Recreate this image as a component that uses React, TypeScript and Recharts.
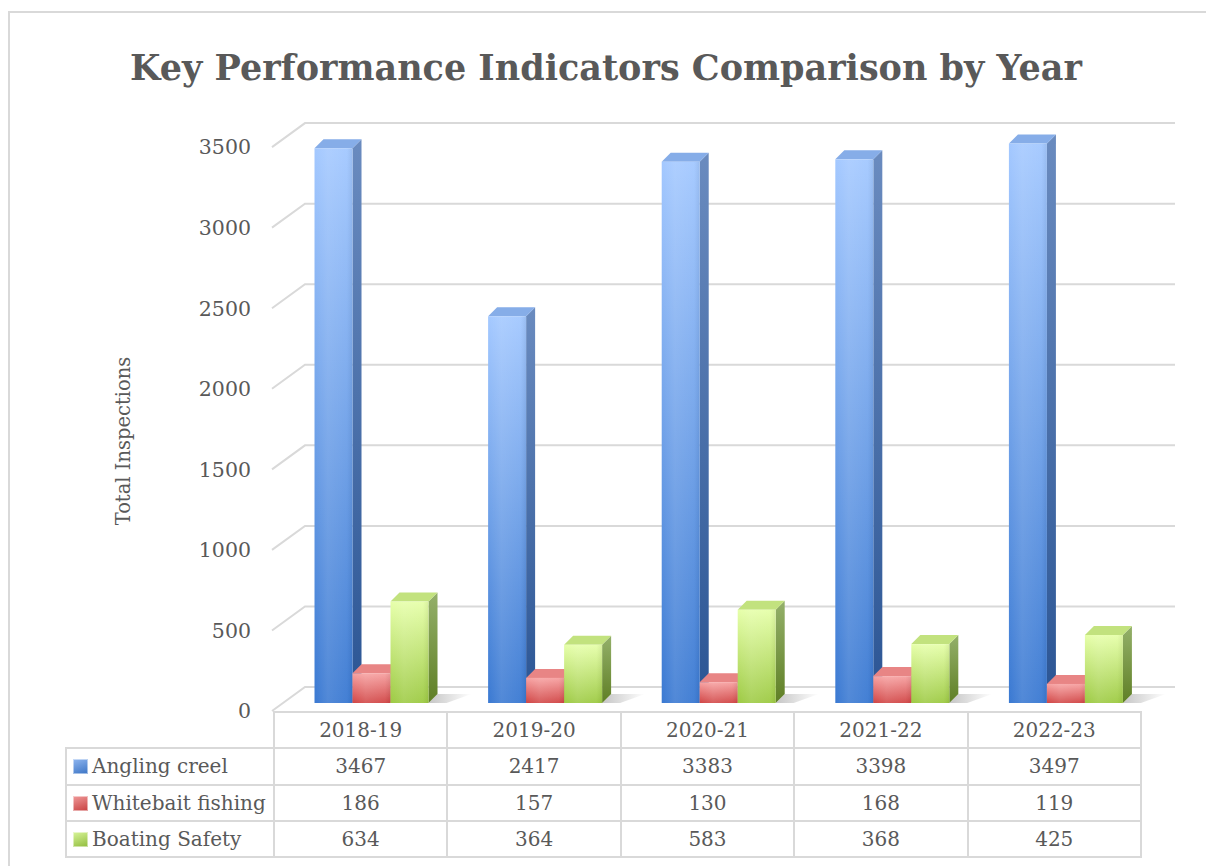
import React from "react";
import { BarChart, Bar, XAxis, YAxis, CartesianGrid } from "recharts";

const years = ["2018-19", "2019-20", "2020-21", "2021-22", "2022-23"];
const anglingCreel = [3467, 2417, 3383, 3398, 3497];
const whitebaitFishing = [186, 157, 130, 168, 119];
const boatingSafety = [634, 364, 583, 368, 425];
const seriesNames = ["Angling creel", "Whitebait fishing", "Boating Safety"];
const yTicks = [0, 500, 1000, 1500, 2000, 2500, 3000, 3500];

const seriesValues = [anglingCreel, whitebaitFishing, boatingSafety];
const seriesKeys = ["angling", "whitebait", "boating"];

const data = years.map((year, i) => ({
  year,
  angling: anglingCreel[i],
  whitebait: whitebaitFishing[i],
  boating: boatingSafety[i],
}));

// layout (window px)
const W = 1206;
const H = 866;
const PLOT_LEFT = 285;
const PLOT_RIGHT = 1153;
const PLOT_TOP = 143;
const PLOT_BOTTOM = 703;
const DX = 9; // bar depth
const DY = 9;
const TEXT = "#595959";
const GRID = "#d9d9d9";
const FONT = "'DejaVu Serif', serif";

const palette = [
  { front: ["#a3c8ff", "#3a79d2"], side: ["#6a8bbf", "#2b5594"], top: "#86ade8", key: ["#8fb6f0", "#3b74c4"] },
  { front: ["#f7a2a2", "#d14545"], side: ["#b35a5a", "#943232"], top: "#e88585", key: ["#f09a9a", "#c74040"] },
  { front: ["#e6ffaa", "#9dca43"], side: ["#94b06a", "#5f7f25"], top: "#c2e27e", key: ["#d8f59a", "#90bb3c"] },
];

const make3DBar = (idx: number) => (props: any) => {
  const { x, y, width, height } = props;
  if (width == null || height == null) return null;
  const c = palette[idx];
  const r = x + width;
  const b = y + height;
  return (
    <g>
      {idx === 2 && (
        <polygon
          points={`${r},${b} ${r + DX},${b - DY} ${r + DX + 34},${b - DY} ${r + 18},${b}`}
          fill="url(#shadowGrad)"
        />
      )}
      <polygon
        points={`${r},${y} ${r + DX},${y - DY} ${r + DX},${b - DY} ${r},${b}`}
        fill={`url(#side${idx})`}
      />
      <polygon
        points={`${x},${y} ${x + DX},${y - DY} ${r + DX},${y - DY} ${r},${y}`}
        fill={c.top}
      />
      <rect x={x} y={y} width={width} height={height} fill={`url(#front${idx})`} />
      <rect x={x} y={y} width={width} height={height} fill="url(#frontShine)" />
    </g>
  );
};

const gridLine = (props: any) => {
  const { y1, key } = props;
  const backY = 687 - (PLOT_BOTTOM - y1) * 1.007;
  const frontY = backY + 24;
  return (
    <path
      key={key}
      d={`M272,${frontY}L305,${backY}L1175,${backY}`}
      stroke={GRID}
      strokeWidth={2}
      fill="none"
    />
  );
};

const YTick = (props: any) => {
  const { y, payload } = props;
  const cy = 687 - (PLOT_BOTTOM - y) * 1.007 + 24;
  return (
    <text
      x={251}
      y={cy}
      dy="0.36em"
      textAnchor="end"
      fontSize={20.5}
      fontFamily={FONT}
      fill={TEXT}
    >
      {payload.value}
    </text>
  );
};

const COL0_LEFT = 65;
const COL0_W = 208;
const COL_W = 173.4;
const ROW_H = 36.3;
const TABLE_TOP = 711;

const cellBorder = `2px solid ${GRID}`;

const DataTable = () => (
  <table
    style={{
      position: "absolute",
      left: COL0_LEFT,
      top: TABLE_TOP,
      borderCollapse: "collapse",
      tableLayout: "fixed",
      width: COL0_W + COL_W * years.length,
      fontFamily: FONT,
      fontSize: 20,
      color: TEXT,
    }}
  >
    <colgroup>
      <col style={{ width: COL0_W }} />
      {years.map((y) => (
        <col key={y} style={{ width: COL_W }} />
      ))}
    </colgroup>
    <tbody>
      <tr style={{ height: ROW_H }}>
        <td style={{ borderTop: "hidden", borderLeft: "hidden", borderRight: cellBorder, borderBottom: cellBorder, padding: 0 }} />
        {years.map((y) => (
          <td key={y} style={{ border: cellBorder, textAlign: "center", padding: 0 }}>
            {y}
          </td>
        ))}
      </tr>
      {seriesNames.map((name, si) => (
        <tr key={name} style={{ height: ROW_H }}>
          <td style={{ border: cellBorder, padding: 0, paddingLeft: 6, whiteSpace: "nowrap" }}>
            <span
              style={{
                display: "inline-block",
                width: 15,
                height: 15,
                marginRight: 4,
                verticalAlign: "-1px",
                background: `linear-gradient(160deg, ${palette[si].key[0]}, ${palette[si].key[1]})`,
                boxShadow: "inset 0 0 0 1px rgba(255,255,255,0.5)",
              }}
            />
            {name}
          </td>
          {seriesValues[si].map((v, i) => (
            <td key={i} style={{ border: cellBorder, textAlign: "center", padding: 0 }}>
              {v}
            </td>
          ))}
        </tr>
      ))}
    </tbody>
  </table>
);

export default function App() {
  return (
    <div
      style={{
        position: "fixed",
        left: 0,
        top: 0,
        width: W,
        height: H,
        overflow: "hidden",
        background: "#fff",
      }}
    >
      <div
        style={{
          position: "absolute",
          left: 8,
          top: 11,
          width: W + 100,
          height: H + 100,
          borderLeft: `2px solid ${GRID}`,
          borderTop: `2px solid ${GRID}`,
        }}
      />
      <svg
        width={W}
        height={H}
        style={{ position: "absolute", left: 0, top: 0, pointerEvents: "none" }}
      >
        <text
          x={606}
          y={80}
          textAnchor="middle"
          fontFamily={FONT}
          fontWeight="bold"
          fontSize={35}
          fill={TEXT}
        >
          Key Performance Indicators Comparison by Year
        </text>
        <text
          transform="translate(130,441) rotate(-90)"
          textAnchor="middle"
          fontFamily={FONT}
          fontSize={19.5}
          fill={TEXT}
        >
          Total Inspections
        </text>
      </svg>
      <div style={{ position: "absolute", left: 0, top: 0 }}>
        <BarChart
          width={W}
          height={H}
          data={data}
          margin={{ top: PLOT_TOP, right: W - PLOT_RIGHT, bottom: H - PLOT_BOTTOM, left: PLOT_LEFT - 60 }}
          barCategoryGap="17%"
          barGap={0}
        >
          <defs>
            {palette.map((c, i) => (
              <linearGradient key={`f${i}`} id={`front${i}`} x1="0" y1="0" x2="0" y2="1">
                <stop offset="0%" stopColor={c.front[0]} />
                <stop offset="100%" stopColor={c.front[1]} />
              </linearGradient>
            ))}
            {palette.map((c, i) => (
              <linearGradient key={`s${i}`} id={`side${i}`} x1="0" y1="0" x2="0" y2="1">
                <stop offset="0%" stopColor={c.side[0]} />
                <stop offset="100%" stopColor={c.side[1]} />
              </linearGradient>
            ))}
            <linearGradient id="frontShine" x1="0" y1="0" x2="1" y2="0">
              <stop offset="0%" stopColor="#fff" stopOpacity={0} />
              <stop offset="35%" stopColor="#fff" stopOpacity={0.12} />
              <stop offset="85%" stopColor="#fff" stopOpacity={0.05} />
              <stop offset="100%" stopColor="#000" stopOpacity={0.06} />
            </linearGradient>
            <linearGradient id="shadowGrad" x1="0" y1="0" x2="1" y2="0">
              <stop offset="0%" stopColor="#7f7f7f" stopOpacity={0.45} />
              <stop offset="100%" stopColor="#7f7f7f" stopOpacity={0} />
            </linearGradient>
          </defs>
          <CartesianGrid horizontal={gridLine} vertical={false} />
          <XAxis dataKey="year" hide />
          <YAxis
            width={60}
            domain={[0, 3500]}
            ticks={yTicks}
            axisLine={false}
            tickLine={false}
            tick={<YTick />}
            interval={0}
          />
          {seriesKeys.map((k, i) => (
            <Bar
              key={k}
              dataKey={k}
              name={seriesNames[i]}
              isAnimationActive={false}
              shape={make3DBar(i)}
            />
          ))}
        </BarChart>
      </div>
      <DataTable />
    </div>
  );
}
